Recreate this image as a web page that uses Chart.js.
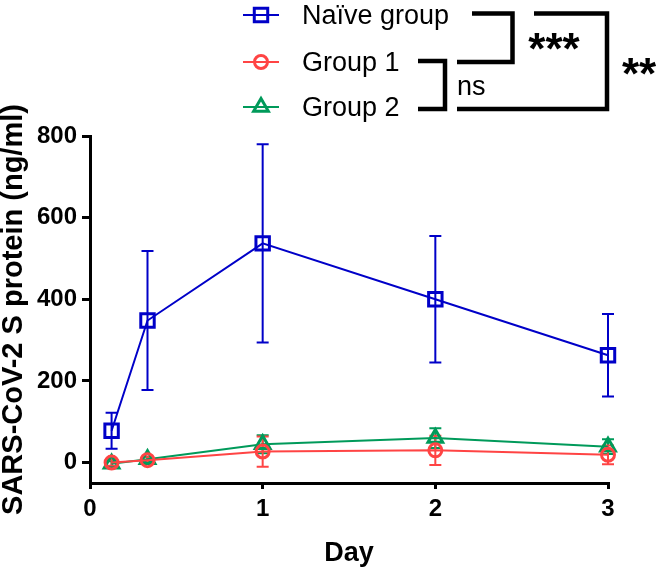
<!DOCTYPE html>
<html>
<head>
<meta charset="utf-8">
<script src="https://cdn.jsdelivr.net/npm/chart.js"></script>
<style>
  html, body { margin: 0; padding: 0; background: #fff; }
  #wrap { width: 660px; height: 571px; position: relative; }
</style>
</head>
<body>
<div id="wrap"><canvas id="c" width="660" height="571"></canvas></div>
<script>
// ---- data ----
const days = [0.125, 0.333, 1, 2, 3];
const seriesNames = ["Naïve group", "Group 1", "Group 2"];
const naiveMean = [78, 348, 537, 400, 263];
const naiveErr = [44, 170, 243, 155, 101];
const group1Mean = [0, 6, 27, 30, 19];
const group1Err = [8, 8, 37, 36, 23];
const group2Mean = [-3, 8, 45, 60, 39];
const group2Err = [6, 6, 22, 24, 18];
const yTicks = [0, 200, 400, 600, 800];
const xTicks = [0, 1, 2, 3];
const yTitle = "SARS-CoV-2 S protein (ng/ml)";
const xTitle = "Day";
const sigLabels = ["***", "ns", "**"];

const COLORS = ["#0000C8", "#FF4444", "#009A5A"];
const STYLES = ["rect", "circle", "triangle"];
const RADII = [9.5, 6.5, 8.5];
const FONT = "'Liberation Sans', Arial, Helvetica, sans-serif";

const means = [naiveMean, group1Mean, group2Mean];
const errs = [naiveErr, group1Err, group2Err];

const datasets = seriesNames.map((name, i) => ({
  label: name,
  data: days.map((d, j) => ({ x: d, y: means[i][j] })),
  errors: errs[i],
  borderColor: COLORS[i],
  backgroundColor: COLORS[i],
  borderWidth: 2,
  pointStyle: STYLES[i],
  pointRadius: RADII[i],
  pointBorderWidth: 3,
  pointBackgroundColor: "rgba(0,0,0,0)",
  pointBorderColor: COLORS[i],
  tension: 0,
  fill: false,
  clip: false
}));

function drawMarker(ctx, style, x, y, r, color) {
  ctx.save();
  ctx.strokeStyle = color;
  ctx.lineWidth = 3;
  ctx.beginPath();
  if (style === "rect") {
    const s = r * Math.SQRT1_2;
    ctx.rect(x - s, y - s, 2 * s, 2 * s);
  } else if (style === "circle") {
    ctx.arc(x, y, r, 0, Math.PI * 2);
  } else {
    let rad = 0;
    ctx.moveTo(x + Math.sin(rad) * r, y - Math.cos(rad) * r);
    rad += 2 * Math.PI / 3;
    ctx.lineTo(x + Math.sin(rad) * r, y - Math.cos(rad) * r);
    rad += 2 * Math.PI / 3;
    ctx.lineTo(x + Math.sin(rad) * r, y - Math.cos(rad) * r);
    ctx.closePath();
  }
  ctx.stroke();
  ctx.restore();
}

const errorBars = {
  id: "errorBars",
  beforeDatasetsDraw(chart) {
    const ctx = chart.ctx;
    const xs = chart.scales.x, ys = chart.scales.y;
    for (let i = chart.data.datasets.length - 1; i >= 0; i--) {
      const ds = chart.data.datasets[i];
      ctx.save();
      ctx.strokeStyle = ds.borderColor;
      ctx.lineWidth = 2;
      ds.data.forEach((p, j) => {
        const e = ds.errors[j];
        const px = xs.getPixelForValue(p.x);
        const top = ys.getPixelForValue(p.y + e);
        const bot = ys.getPixelForValue(p.y - e);
        ctx.beginPath();
        ctx.moveTo(px, top); ctx.lineTo(px, bot);
        ctx.moveTo(px - 6, top); ctx.lineTo(px + 6, top);
        ctx.moveTo(px - 6, bot); ctx.lineTo(px + 6, bot);
        ctx.stroke();
      });
      ctx.restore();
    }
  }
};

const legendAndSig = {
  id: "legendAndSig",
  afterDraw(chart) {
    const ctx = chart.ctx;
    const rows = [15, 62, 107];
    ctx.save();
    seriesNames.forEach((name, i) => {
      const y = rows[i];
      ctx.strokeStyle = COLORS[i];
      ctx.lineWidth = 2;
      ctx.beginPath();
      ctx.moveTo(243, y); ctx.lineTo(279, y);
      ctx.stroke();
      drawMarker(ctx, STYLES[i], 261, y, RADII[i], COLORS[i]);
      ctx.fillStyle = "#000";
      ctx.font = "27px " + FONT;
      ctx.textAlign = "left";
      ctx.textBaseline = "alphabetic";
      ctx.fillText(name, 302, y + 8.5);
    });
    // brackets
    ctx.strokeStyle = "#000";
    ctx.lineWidth = 4.5;
    ctx.lineJoin = "miter";
    ctx.beginPath();
    ctx.moveTo(472, 13.5); ctx.lineTo(512.5, 13.5); ctx.lineTo(512.5, 62); ctx.lineTo(457, 62);
    ctx.stroke();
    ctx.beginPath();
    ctx.moveTo(418, 61); ctx.lineTo(445, 61); ctx.lineTo(445, 109); ctx.lineTo(418, 109);
    ctx.stroke();
    ctx.beginPath();
    ctx.moveTo(534, 13.5); ctx.lineTo(607, 13.5); ctx.lineTo(607, 109); ctx.lineTo(457, 109);
    ctx.stroke();
    // significance labels
    ctx.fillStyle = "#000";
    ctx.textAlign = "center";
    ctx.textBaseline = "alphabetic";
    ctx.font = "bold 44px " + FONT;
    ctx.fillText(sigLabels[0], 554, 64);
    ctx.fillText(sigLabels[2], 639, 89);
    ctx.font = "27px " + FONT;
    ctx.textAlign = "left";
    ctx.fillText(sigLabels[1], 457, 95);
    ctx.restore();
  }
};

new Chart(document.getElementById("c"), {
  type: "line",
  data: { datasets },
  options: {
    responsive: false,
    devicePixelRatio: 1,
    animation: false,
    layout: { padding: { top: 136, right: 52, left: 0, bottom: 0 } },
    plugins: { legend: { display: false }, tooltip: { enabled: false } },
    scales: {
      x: {
        type: "linear",
        min: 0, max: 3,
        afterBuildTicks(scale) { scale.ticks = xTicks.map(v => ({ value: v })); },
        afterFit(scale) { scale.height = 88; },
        ticks: { color: "#000", font: { family: FONT, size: 24, weight: "bold" }, padding: 6, maxRotation: 0 },
        grid: { display: true, drawOnChartArea: false, drawTicks: true, tickLength: 6, tickColor: "#000", tickWidth: 3, color: "#000", lineWidth: 3 },
        border: { display: true, color: "#000", width: 3 },
        title: { display: true, text: xTitle, color: "#000", font: { family: FONT, size: 27, weight: "bold", lineHeight: 1 }, padding: { top: 0, bottom: 4 } }
      },
      y: {
        type: "linear",
        min: -50, max: 800,
        afterBuildTicks(scale) { scale.ticks = yTicks.map(v => ({ value: v })); },
        afterFit(scale) { scale.width = 90; },
        ticks: { color: "#000", font: { family: FONT, size: 24, weight: "bold" }, padding: 5 },
        grid: { display: true, drawOnChartArea: false, drawTicks: true, tickLength: 8, tickColor: "#000", tickWidth: 3, color: "#000", lineWidth: 3 },
        border: { display: true, color: "#000", width: 3 },
        title: { display: true, text: yTitle, color: "#000", font: { family: FONT, size: 29, weight: "bold", lineHeight: 1 }, padding: { top: -1, bottom: 0 } }
      }
    }
  },
  plugins: [errorBars, legendAndSig]
});
</script>
</body>
</html>
